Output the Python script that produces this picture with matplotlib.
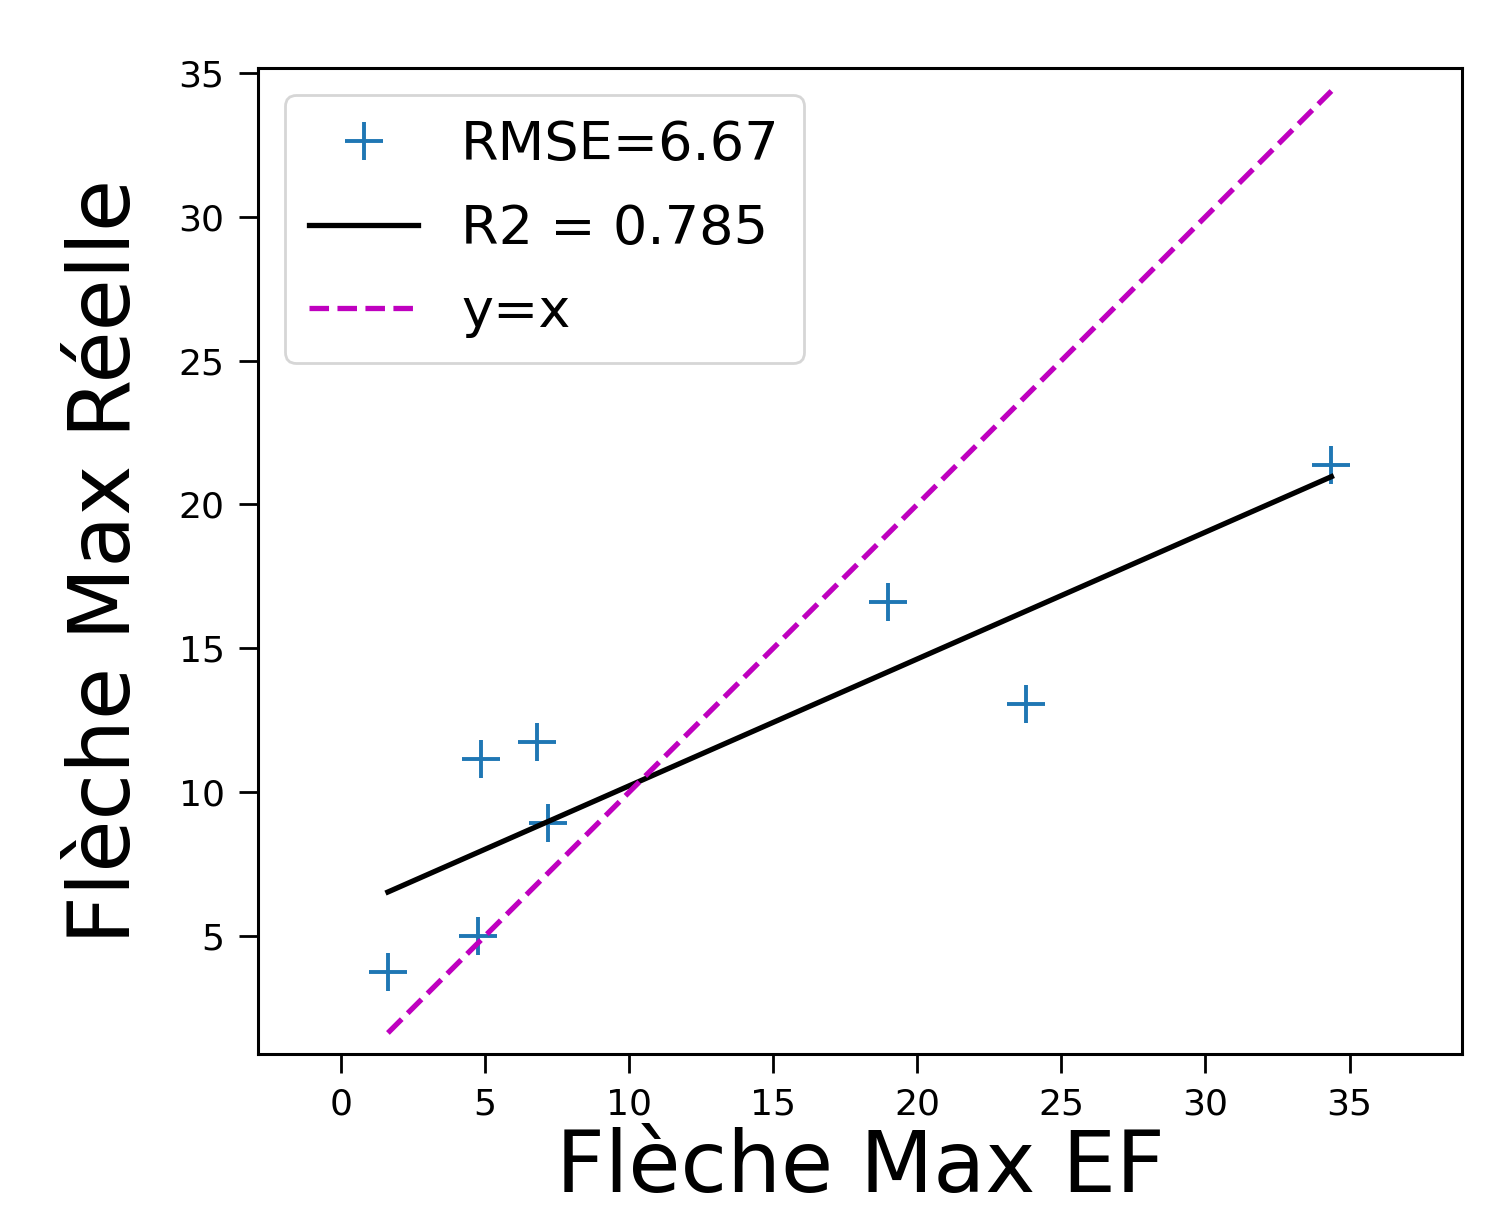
import matplotlib
matplotlib.use("Agg")
import matplotlib.pyplot as plt
import numpy as np

# values
fleche_ef = np.array([1.63, 4.75, 4.86, 6.80, 7.18, 18.97, 23.76, 34.37])
fleche_reelle = np.array([3.75, 5.00, 11.15, 11.74, 8.93, 16.60, 13.06, 21.37])
rmse_label = "RMSE=6.67"
r2_label = "R2 = 0.785"
xticks = [0, 5, 10, 15, 20, 25, 30, 35]
yticks = [5, 10, 15, 20, 25, 30, 35]

# linear fit of the data
slope, intercept = np.polyfit(fleche_ef, fleche_reelle, 1)
xs = np.sort(fleche_ef)

fig = plt.figure(figsize=(14.97, 12.12), dpi=100)
ax = fig.add_axes([0.1723, 0.1304, 0.8043, 0.8135])

ax.plot(fleche_ef, fleche_reelle, '+', color='#1f77b4', markersize=27,
        markeredgewidth=2.8, label=rmse_label)
ax.plot(xs, slope * xs + intercept, 'k-', linewidth=3.8, label=r2_label)
ax.plot(xs, xs, 'm--', linewidth=3.8, label='y=x')

ax.set_xlim(-2.88, 38.9)
ax.set_ylim(0.9, 35.17)
ax.set_xticks(xticks)
ax.set_yticks(yticks)
ax.tick_params(labelsize=26, length=14, width=2.0, pad=10)
for s in ax.spines.values():
    s.set_linewidth(2.2)

ax.set_xlabel('Flèche Max EF', fontsize=61, labelpad=4)
ax.set_ylabel('Flèche Max Réelle', fontsize=61, labelpad=22)

leg = ax.legend(loc='upper left', fontsize=39, handlelength=2.0,
                labelspacing=0.58, borderpad=0.45)
leg.get_frame().set_linewidth(2.0)

fig.savefig('out.png', dpi=100)
